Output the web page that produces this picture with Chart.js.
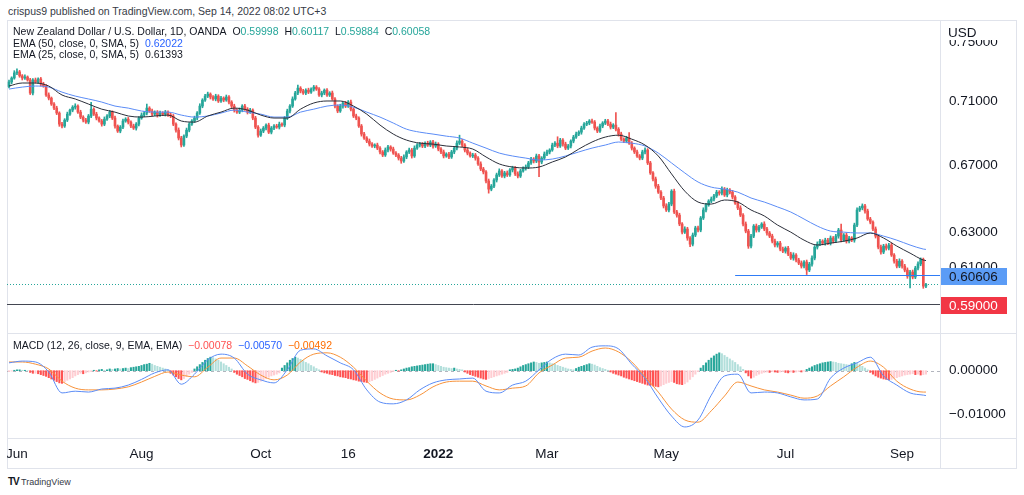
<!DOCTYPE html>
<html>
<head>
<meta charset="utf-8">
<title>NZD/USD 1D</title>
<script src="https://cdn.jsdelivr.net/npm/chart.js@4.4.1/dist/chart.umd.min.js"></script>
<style>
  html,body{margin:0;padding:0;background:#fff}
  body{width:1024px;height:495px;position:relative;overflow:hidden;font-family:'Liberation Sans Narrow','Liberation Sans',Arial,sans-serif;color:#131722}
  .abs{position:absolute;white-space:nowrap}
  .ln{position:absolute;background:#e0e3eb}
  canvas{position:absolute;display:block}
  .lg{left:13px;font-size:10.5px;line-height:12px}
  .up{color:#26a69a}
</style>
</head>
<body>
<div class="abs" style="left:8px;top:5px;font-size:10.5px;color:#363a45">crispus9 published on TradingView.com, Sep 14, 2022 08:02 UTC+3</div>

<div class="ln" style="left:7px;top:20px;width:1010px;height:1px"></div>
<div class="ln" style="left:7px;top:468px;width:1010px;height:1px"></div>
<div class="ln" style="left:7px;top:20px;width:1px;height:449px"></div>
<div class="ln" style="left:1016px;top:20px;width:1px;height:449px"></div>
<div class="ln" style="left:7px;top:333px;width:1010px;height:1px"></div>
<div class="ln" style="left:7px;top:438px;width:1010px;height:1px"></div>
<div class="ln" style="left:940px;top:20px;width:1px;height:449px"></div>

<canvas id="main" width="1009" height="313" style="left:7px;top:20px"></canvas>
<canvas id="macd" width="1009" height="135" style="left:7px;top:333px"></canvas>

<div class="abs lg" style="top:25px">New Zealand Dollar / U.S. Dollar, 1D, OANDA&nbsp;&nbsp;O<span class="up">0.59998</span>&nbsp;&nbsp;H<span class="up">0.60117</span>&nbsp;&nbsp;L<span class="up">0.59884</span>&nbsp;&nbsp;C<span class="up">0.60058</span></div>
<div class="abs lg" style="top:37px">EMA (50, close, 0, SMA, 5)&nbsp;&nbsp;<span style="color:#2962ff">0.62022</span></div>
<div class="abs lg" style="top:48px">EMA (25, close, 0, SMA, 5)&nbsp;&nbsp;0.61393</div>
<div class="abs lg" style="top:339px">MACD (12, 26, close, 9, EMA, EMA)&nbsp;&nbsp;<span style="color:#ff5252">&minus;0.00078</span>&nbsp;&nbsp;<span style="color:#2962ff">&minus;0.00570</span>&nbsp;&nbsp;<span style="color:#ff6d00">&minus;0.00492</span></div>
<div class="abs" style="left:948px;top:25px;font-size:13.5px">USD</div>
<div class="abs" style="left:8px;top:476px;font-size:9px;color:#363a45"><b style="font-size:10px;letter-spacing:-1px;color:#131722">TV</b> TradingView</div>

<script>
// NZD/USD daily candles, OANDA, late May 2021 -> Sep 14 2022
const firstOpen = 0.7200;
const closes = [
  0.7230,0.7256,0.7290,0.7297,0.7270,0.7256,0.7263,0.7243,0.7157,0.7243,
  0.7230,0.7250,0.7216,0.7203,0.7144,0.7124,0.7085,0.7059,0.7027,0.6956,
  0.6944,0.6982,0.7020,0.7046,0.7065,0.7072,0.7033,0.7001,0.6982,0.6969,
  0.7008,0.7052,0.7020,0.6995,0.6976,0.6956,0.6988,0.7008,0.7033,0.6995,
  0.6944,0.6912,0.6937,0.6976,0.6988,0.6969,0.6944,0.6931,0.6956,0.6995,
  0.7014,0.7027,0.7059,0.7040,0.7020,0.7033,0.7014,0.7027,0.7020,0.7033,
  0.7014,0.7008,0.6956,0.6918,0.6868,0.6824,0.6880,0.6918,0.6956,0.6976,
  0.6995,0.7027,0.7072,0.7111,0.7137,0.7150,0.7131,0.7118,0.7137,0.7105,
  0.7124,0.7111,0.7131,0.7098,0.7072,0.7046,0.7033,0.7046,0.7072,0.7052,
  0.7033,0.7046,0.6995,0.6937,0.6886,0.6912,0.6931,0.6950,0.6905,0.6931,
  0.6944,0.6937,0.6956,0.6950,0.6995,0.7040,0.7072,0.7118,0.7157,0.7189,
  0.7170,0.7157,0.7176,0.7163,0.7183,0.7196,0.7183,0.7144,0.7157,0.7176,
  0.7144,0.7157,0.7118,0.7072,0.7040,0.7072,0.7092,0.7072,0.7098,0.7052,
  0.7008,0.6995,0.6944,0.6893,0.6868,0.6849,0.6830,0.6818,0.6824,0.6805,
  0.6781,0.6762,0.6793,0.6812,0.6799,0.6774,0.6762,0.6743,0.6725,0.6750,
  0.6781,0.6793,0.6756,0.6805,0.6824,0.6830,0.6818,0.6836,0.6824,0.6843,
  0.6818,0.6830,0.6799,0.6781,0.6756,0.6768,0.6750,0.6781,0.6805,0.6836,
  0.6849,0.6824,0.6793,0.6774,0.6756,0.6762,0.6743,0.6707,0.6676,0.6658,
  0.6603,0.6554,0.6572,0.6609,0.6640,0.6664,0.6633,0.6652,0.6640,0.6670,
  0.6682,0.6646,0.6633,0.6664,0.6682,0.6688,0.6713,0.6737,0.6725,0.6756,
  0.6719,0.6743,0.6768,0.6781,0.6793,0.6824,0.6836,0.6818,0.6855,0.6830,
  0.6805,0.6818,0.6849,0.6874,0.6893,0.6905,0.6931,0.6956,0.6963,0.6976,
  0.6969,0.6931,0.6912,0.6944,0.6963,0.6976,0.6956,0.6937,0.6950,0.6924,
  0.6893,0.6861,0.6849,0.6868,0.6836,0.6805,0.6781,0.6756,0.6743,0.6781,
  0.6793,0.6713,0.6652,0.6615,0.6572,0.6536,0.6501,0.6454,0.6430,0.6465,
  0.6542,0.6418,0.6400,0.6348,0.6301,0.6319,0.6267,0.6232,0.6284,0.6325,
  0.6313,0.6383,0.6430,0.6460,0.6483,0.6495,0.6513,0.6536,0.6530,0.6554,
  0.6519,0.6548,0.6536,0.6507,0.6471,0.6442,0.6400,0.6348,0.6307,0.6221,
  0.6278,0.6336,0.6313,0.6330,0.6348,0.6319,0.6296,0.6278,0.6249,0.6227,
  0.6238,0.6204,0.6192,0.6209,0.6176,0.6153,0.6170,0.6142,0.6125,0.6108,
  0.6131,0.6086,0.6119,0.6153,0.6215,0.6232,0.6249,0.6238,0.6255,0.6238,
  0.6267,0.6249,0.6278,0.6313,0.6255,0.6284,0.6249,0.6267,0.6255,0.6342,
  0.6430,0.6442,0.6454,0.6424,0.6377,0.6359,0.6319,0.6278,0.6215,0.6187,
  0.6221,0.6209,0.6227,0.6170,0.6136,0.6108,0.6136,0.6108,0.6086,0.6052,
  0.6075,0.6047,0.6097,0.6120,0.6145,0.5997,0.6006
];
// wick lengths in pips, above and below the candle body
const wickUp = [
  12,8,15,20,10,9,14,7,11,9, 13,8,10,12,9,14,7,10,12,8,
  11,9,13,7,10,15,8,12,9,11, 10,45,9,12,8,10,14,9,11,8,
  12,7,10,13,9,11,8,12,10,9, 14,11,26,9,12,8,10,13,9,11,
  8,12,10,9,14,11,8,13,10,9, 12,10,15,9,11,13,8,10,12,9,
  11,8,13,10,9,12,10,14,9,11, 10,12,8,11,9,13,10,8,12,10,
  9,11,13,8,10,12,9,14,11,20, 10,12,9,13,8,11,10,9,12,8,
  11,9,13,10,8,12,9,11,10,13, 9,12,8,10,11,9,13,10,8,12,
  10,9,13,11,8,12,10,9,11,13, 8,12,10,14,9,11,10,8,12,9,
  11,13,9,10,12,8,11,10,9,14, 37,10,9,12,8,11,10,9,13,10,
  8,12,10,9,11,13,9,10,12,8, 11,9,12,10,8,13,10,11,9,12,
  10,9,13,11,8,12,10,40,11,9, 12,10,8,11,13,9,12,10,11,9,
  13,10,8,12,9,11,10,13,9,80, 10,12,9,11,35,10,8,12,9,11,
  13,9,10,8,12,11,9,10,13,10, 9,12,10,11,8,13,10,9,12,10,
  11,9,13,10,8,12,10,11,9,14, 10,12,9,11,8,10,13,9,12,10,
  11,9,12,10,8,13,10,9,11,12, 9,10,12,8,11,10,13,9,10,12,
  8,11,10,12,9,13,10,8,11,10, 12,9,11,10,35,9,12,10,8,11,
  13,10,12,9,11,10,8,12,9,11, 10,12,9,11,8,10,13,9,10,12,
  9,11,10,12,9,8,6
];
const wickDn = [
  10,12,8,11,9,13,10,8,10,12, 9,11,13,8,10,12,9,11,10,14,
  12,9,10,8,11,13,9,10,12,8, 11,10,9,12,8,13,10,9,11,10,
  13,9,11,10,8,12,10,9,13,11, 8,10,12,9,11,10,13,8,10,12,
  9,11,10,13,12,12,9,10,11,8, 10,12,9,11,8,10,13,9,12,10,
  9,11,8,12,10,13,9,10,11,8, 12,9,11,10,13,8,10,12,9,11,
  10,8,12,9,11,10,13,9,8,10, 12,9,11,10,8,13,9,10,12,11,
  9,10,8,12,11,9,13,10,9,12, 10,11,9,13,8,10,12,9,11,10,
  12,10,9,11,13,8,10,12,14,9, 11,10,13,9,8,12,10,11,9,10,
  13,9,11,10,12,8,10,9,11,12, 9,10,12,11,8,10,13,9,10,12,
  11,24,10,9,12,10,8,11,10,9, 12,10,11,9,8,13,10,9,12,10,
  90,11,9,10,12,8,10,11,9,13, 10,9,12,11,8,10,13,9,10,11,
  9,12,10,8,11,10,9,12,10,11, 13,9,10,11,8,12,10,9,11,10,
  12,10,9,11,13,8,10,12,9,11, 10,9,12,10,11,8,13,14,10,9,
  11,10,9,12,8,10,11,9,12,10, 9,11,10,12,8,10,9,11,10,13,
  10,9,12,11,8,10,13,9,10,11, 12,10,9,11,10,8,12,10,9,11,
  10,25,9,12,10,11,8,10,12,9, 11,10,9,12,10,8,11,10,9,12,
  10,9,11,12,8,10,9,11,10,12, 9,11,10,8,12,10,9,11,10,12,
  65,10,9,11,10,12,9
];
// EMA and MACD lines, read every 5th bar (last point = last bar)
const lineStep = 5;
const ema50 = [
  0.7183,0.7196,0.7203,0.7196,0.7163,0.7137,0.7118,0.7098,0.7072,0.7059,
  0.7040,0.7033,0.7033,0.7014,0.7001,0.7008,0.7027,0.7046,0.7033,0.7020,
  0.7001,0.7001,0.7033,0.7052,0.7072,0.7079,0.7065,0.7033,0.7001,0.6963,
  0.6924,0.6905,0.6893,0.6880,0.6868,0.6836,0.6805,0.6774,0.6756,0.6743,
  0.6731,0.6737,0.6756,0.6781,0.6805,0.6824,0.6843,0.6836,0.6818,0.6774,
  0.6713,0.6652,0.6597,0.6566,0.6554,0.6536,0.6501,0.6477,0.6448,0.6418,
  0.6377,0.6336,0.6307,0.6301,0.6296,0.6296,0.6278,0.6255,0.6227,0.6204,
  0.6202
];
const ema25 = [
  0.7203,0.7223,0.7223,0.7203,0.7144,0.7118,0.7085,0.7052,0.7033,0.7008,
  0.7001,0.7008,0.7014,0.6976,0.6969,0.7008,0.7033,0.7059,0.7046,0.7014,
  0.6995,0.6995,0.7052,0.7092,0.7105,0.7105,0.7072,0.7020,0.6950,0.6893,
  0.6855,0.6836,0.6830,0.6818,0.6812,0.6799,0.6750,0.6707,0.6688,0.6682,
  0.6688,0.6719,0.6750,0.6799,0.6843,0.6874,0.6886,0.6861,0.6824,0.6756,
  0.6646,0.6542,0.6477,0.6465,0.6489,0.6477,0.6430,0.6395,0.6342,0.6301,
  0.6255,0.6227,0.6238,0.6249,0.6267,0.6296,0.6267,0.6221,0.6181,0.6142,
  0.6139
];
const macdLine = [
  0.0018,0.0022,0.0020,-0.0003,-0.0051,-0.0047,-0.0049,-0.0042,-0.0040,-0.0033,
  -0.0020,-0.0005,0.0002,-0.0031,-0.0008,0.0025,0.0038,0.0029,-0.0008,-0.0021,
  -0.0028,0.0002,0.0047,0.0050,0.0034,0.0018,0.0002,-0.0044,-0.0072,-0.0076,
  -0.0067,-0.0044,-0.0028,-0.0021,-0.0019,-0.0017,-0.0047,-0.0051,-0.0033,-0.0024,
  0.0002,0.0027,0.0038,0.0036,0.0054,0.0057,0.0050,0.0015,-0.0017,-0.0063,
  -0.0104,-0.0129,-0.0113,-0.0056,-0.0012,-0.0008,-0.0051,-0.0049,-0.0051,-0.0060,
  -0.0067,-0.0065,-0.0017,0.0006,0.0018,0.0031,-0.0012,-0.0033,-0.0051,-0.0056,
  -0.0057
];
const signalLine = [
  0.0020,0.0020,0.0015,0.0004,-0.0024,-0.0040,-0.0044,-0.0044,-0.0042,-0.0037,
  -0.0026,-0.0013,-0.0003,-0.0010,-0.0014,0.0008,0.0029,0.0029,0.0011,-0.0010,
  -0.0021,-0.0010,0.0020,0.0038,0.0041,0.0031,0.0008,-0.0024,-0.0051,-0.0065,
  -0.0067,-0.0056,-0.0037,-0.0026,-0.0024,-0.0024,-0.0035,-0.0044,-0.0040,-0.0035,
  -0.0005,0.0013,0.0029,0.0031,0.0045,0.0052,0.0043,0.0020,-0.0014,-0.0049,
  -0.0088,-0.0113,-0.0118,-0.0092,-0.0058,-0.0026,-0.0035,-0.0044,-0.0049,-0.0056,
  -0.0063,-0.0058,-0.0035,-0.0014,0.0008,0.0022,0.0008,-0.0024,-0.0042,-0.0049,
  -0.0049
];
const histogram = [
  -0.0002,-0.0001,0.0001,0.0002,0.0002,0.0001,0.0001,0.0000,-0.0004,-0.0006,
  -0.0006,-0.0007,-0.0009,-0.0011,-0.0013,-0.0016,-0.0019,-0.0022,-0.0025,-0.0028,
  -0.0029,-0.0026,-0.0022,-0.0019,-0.0016,-0.0012,-0.0009,-0.0006,-0.0007,-0.0005,
  -0.0003,-0.0002,0.0001,-0.0001,0.0002,0.0003,0.0001,0.0002,0.0004,0.0003,
  0.0004,0.0005,0.0004,0.0005,0.0006,0.0005,0.0007,0.0008,0.0009,0.0010,
  0.0012,0.0014,0.0015,0.0017,0.0015,0.0012,0.0010,0.0008,0.0006,0.0004,
  0.0002,-0.0006,-0.0010,-0.0014,-0.0018,-0.0021,-0.0018,-0.0013,-0.0008,-0.0004,
  0.0004,0.0009,0.0014,0.0019,0.0024,0.0028,0.0031,0.0030,0.0027,0.0024,
  0.0020,0.0016,0.0012,0.0008,0.0004,-0.0004,-0.0008,-0.0011,-0.0014,-0.0018,
  -0.0020,-0.0023,-0.0026,-0.0028,-0.0027,-0.0024,-0.0021,-0.0018,-0.0015,-0.0012,
  -0.0010,-0.0008,-0.0005,0.0006,0.0012,0.0018,0.0024,0.0028,0.0031,0.0029,
  0.0026,0.0023,0.0019,0.0016,0.0012,0.0009,0.0005,0.0002,-0.0003,-0.0005,
  -0.0006,-0.0008,-0.0009,-0.0011,-0.0012,-0.0014,-0.0015,-0.0016,-0.0018,-0.0019,
  -0.0021,-0.0022,-0.0024,-0.0025,-0.0026,-0.0027,-0.0025,-0.0023,-0.0020,-0.0017,
  -0.0014,-0.0011,-0.0008,-0.0006,-0.0004,-0.0002,0.0001,-0.0001,0.0002,0.0004,
  0.0006,0.0007,0.0009,0.0010,0.0011,0.0012,0.0013,0.0014,0.0015,0.0016,
  0.0016,0.0014,0.0012,0.0010,0.0008,0.0007,0.0006,0.0005,0.0006,0.0004,
  0.0003,0.0002,-0.0003,-0.0006,-0.0009,-0.0011,-0.0013,-0.0015,-0.0017,-0.0019,
  -0.0020,-0.0018,-0.0016,-0.0014,-0.0012,-0.0010,-0.0008,-0.0006,-0.0004,0.0002,
  0.0003,0.0004,0.0006,0.0009,0.0012,0.0014,0.0016,0.0018,0.0020,0.0019,
  0.0017,0.0018,0.0019,0.0020,0.0018,0.0016,0.0015,0.0012,0.0010,0.0008,
  0.0006,0.0004,0.0003,0.0002,0.0005,0.0008,0.0010,0.0012,0.0014,0.0016,
  0.0015,0.0013,0.0010,0.0007,0.0005,0.0003,0.0001,-0.0003,-0.0006,-0.0008,
  -0.0010,-0.0012,-0.0015,-0.0017,-0.0019,-0.0021,-0.0023,-0.0025,-0.0027,-0.0029,
  -0.0031,-0.0033,-0.0034,-0.0035,-0.0036,-0.0037,-0.0035,-0.0032,-0.0029,-0.0027,
  -0.0025,-0.0027,-0.0030,-0.0031,-0.0032,-0.0030,-0.0026,-0.0020,-0.0014,-0.0008,
  -0.0002,0.0006,0.0012,0.0018,0.0024,0.0029,0.0034,0.0038,0.0041,0.0039,
  0.0035,0.0031,0.0027,0.0023,0.0019,0.0014,0.0009,0.0003,-0.0005,-0.0012,
  -0.0017,-0.0015,-0.0011,-0.0008,-0.0006,-0.0004,-0.0003,-0.0004,-0.0002,-0.0003,
  -0.0004,-0.0003,-0.0002,-0.0004,-0.0005,-0.0003,-0.0004,-0.0003,-0.0002,-0.0003,
  -0.0001,0.0003,0.0006,0.0009,0.0012,0.0014,0.0016,0.0018,0.0019,0.0020,
  0.0021,0.0020,0.0019,0.0017,0.0016,0.0015,0.0014,0.0013,0.0016,0.0019,
  0.0018,0.0015,0.0010,0.0006,0.0002,-0.0004,-0.0008,-0.0012,-0.0015,-0.0017,
  -0.0019,-0.0020,-0.0021,-0.0020,-0.0018,-0.0016,-0.0014,-0.0012,-0.0010,-0.0009,
  -0.0008,-0.0007,-0.0009,-0.0008,-0.0010,-0.0009,-0.0008
];
const priceTicks = [0.61, 0.63, 0.67, 0.71, 0.75];
const macdTicks = [-0.01, 0];
const timeLabels = ['Jun', 'Aug', 'Oct', '16', '2022', 'Mar', 'May', 'Jul', 'Sep'];
const timeIdx = [3, 50, 95, 128, 162, 203, 248, 293, 337];
const supportLevel = 0.60606, supportFrom = 274;
const lowLevel = 0.59;

const UP = '#26a69a', DOWN = '#ef5350';
const FONT = "'Liberation Sans Narrow','Liberation Sans',Arial,sans-serif";
Chart.defaults.font.family = FONT;
Chart.defaults.color = '#131722';

const pip = 0.0001;
const opens = closes.map((c, i) => i ? closes[i - 1] : firstOpen);
const candleCol = closes.map((c, i) => c >= opens[i] ? UP : DOWN);
const bodies = closes.map((c, i) => ({x: i, y: [opens[i], c]}));
const wicks = closes.map((c, i) => ({x: i, y: [Math.min(opens[i], c) - wickDn[i] * pip, Math.max(opens[i], c) + wickUp[i] * pip]}));
const lastBar = closes.length - 1;
const lineX = k => Math.min(k * lineStep, lastBar);
const pts = arr => arr.map((v, k) => ({x: lineX(k), y: v}));
const histCol = histogram.map((h, i) => {
  const p = i ? histogram[i - 1] : h;
  if (h >= 0) return h >= p ? '#26a69a' : '#b2dfdb';
  return h < p ? '#ff5252' : '#ffcdd2';
});

// bar index range that fills the plot width
const xMin = -0.755, xMax = 351.3;

function tag(ctx, x, y, fill, color, text) {
  ctx.fillStyle = fill;
  ctx.fillRect(x, Math.round(y) - 8, 66, 17);
  ctx.fillStyle = color;
  ctx.font = '13.5px ' + FONT;
  ctx.textBaseline = 'middle';
  ctx.fillText(text, x + 8, Math.round(y) + 1);
}

const mainMarks = {
  id: 'mainMarks',
  beforeDatasetsDraw(chart) {
    const {ctx, chartArea: a, scales: {y}} = chart;
    const yl = Math.round(y.getPixelForValue(closes[lastBar])) + 0.5;
    ctx.save();
    ctx.strokeStyle = '#26a69a';
    ctx.lineWidth = 1;
    ctx.setLineDash([1, 2]);
    ctx.beginPath(); ctx.moveTo(a.left, yl); ctx.lineTo(a.right, yl); ctx.stroke();
    ctx.restore();
  },
  afterDraw(chart) {
    const {ctx, chartArea: a, scales: {x, y}} = chart;
    ctx.save();
    ctx.fillStyle = '#fff';
    ctx.fillRect(a.right + 1, 1, chart.width - a.right - 2, 19);
    ctx.setLineDash([]);
    ctx.lineWidth = 1;
    const yr = Math.round(y.getPixelForValue(lowLevel)) + 0.5;
    ctx.strokeStyle = '#434651';
    ctx.beginPath(); ctx.moveTo(a.left, yr); ctx.lineTo(a.right, yr); ctx.stroke();
    const ys = Math.round(y.getPixelForValue(supportLevel)) + 0.5;
    ctx.strokeStyle = '#2f7cf6';
    ctx.beginPath(); ctx.moveTo(x.getPixelForValue(supportFrom), ys); ctx.lineTo(a.right, ys); ctx.stroke();
    tag(ctx, a.right + 1, ys, '#5b9cf6', '#131722', supportLevel.toFixed(5));
    tag(ctx, a.right + 1, yr, '#f23645', '#ffffff', lowLevel.toFixed(5));
    ctx.restore();
  }
};

new Chart(document.getElementById('main'), {
  type: 'bar',
  data: {
    datasets: [
      {type: 'bar', data: wicks, backgroundColor: candleCol, barThickness: 1, grouped: false, order: 4},
      {type: 'bar', data: bodies, backgroundColor: candleCol, barThickness: 2, grouped: false, minBarLength: 1, order: 3},
      {type: 'line', data: pts(ema50), borderColor: '#5b8cf6', borderWidth: 1, pointRadius: 0, cubicInterpolationMode: 'monotone', order: 2},
      {type: 'line', data: pts(ema25), borderColor: '#2a2e39', borderWidth: 1, pointRadius: 0, cubicInterpolationMode: 'monotone', order: 1}
    ]
  },
  options: {
    responsive: false, animation: false, events: [],
    plugins: {legend: {display: false}, tooltip: {enabled: false}},
    scales: {
      x: {type: 'linear', min: xMin, max: xMax, offset: false, display: false},
      y: {
        type: 'logarithmic', position: 'right', min: 0.5745, max: 0.7652, bounds: 'data',
        grid: {display: false, drawTicks: false}, border: {display: false},
        ticks: {padding: 9, font: {size: 13.5}, color: '#131722', callback: v => v.toFixed(5)},
        afterBuildTicks: s => { s.ticks = priceTicks.map(v => ({value: v})); },
        afterFit: s => { s.width = 76; s.paddingTop = 0; s.paddingBottom = 0; }
      }
    }
  },
  plugins: [mainMarks]
});

const macdMarks = {
  id: 'macdMarks',
  beforeDatasetsDraw(chart) {
    const {ctx, chartArea: a, scales: {y}} = chart;
    const y0 = Math.round(y.getPixelForValue(0)) + 0.5;
    ctx.save();
    ctx.strokeStyle = '#b2b5be';
    ctx.lineWidth = 1;
    ctx.setLineDash([3, 3]);
    ctx.beginPath(); ctx.moveTo(a.left, y0); ctx.lineTo(a.right, y0); ctx.stroke();
    ctx.restore();
  }
};

new Chart(document.getElementById('macd'), {
  type: 'bar',
  data: {
    datasets: [
      {type: 'bar', data: histogram.map((h, i) => ({x: i, y: h})), backgroundColor: histCol, barThickness: 1.4, grouped: false, order: 3},
      {type: 'line', data: pts(signalLine), borderColor: '#f7923a', borderWidth: 1, pointRadius: 0, cubicInterpolationMode: 'monotone', order: 2},
      {type: 'line', data: pts(macdLine), borderColor: '#5b8cf6', borderWidth: 1, pointRadius: 0, cubicInterpolationMode: 'monotone', order: 1}
    ]
  },
  options: {
    responsive: false, animation: false, events: [],
    plugins: {legend: {display: false}, tooltip: {enabled: false}},
    scales: {
      x: {
        type: 'linear', min: xMin, max: xMax, offset: false,
        grid: {display: false, drawTicks: false}, border: {display: false},
        ticks: {
          padding: 8, autoSkip: false, maxRotation: 0, color: '#131722',
          font: c => ({size: 13.5, weight: c.tick && c.tick.value === 162 ? 'bold' : 'normal'}),
          callback: v => timeLabels[timeIdx.indexOf(v)]
        },
        afterBuildTicks: s => { s.ticks = timeIdx.map(v => ({value: v})); },
        afterFit: s => { s.height = 30; s.paddingLeft = 0; s.paddingRight = 0; }
      },
      y: {
        type: 'linear', position: 'right', min: -0.015436, max: 0.008647,
        grid: {display: false, drawTicks: false}, border: {display: false},
        ticks: {padding: 9, font: {size: 13.5}, color: '#131722', callback: v => (v < 0 ? '\u2212' : '') + Math.abs(v).toFixed(5)},
        afterBuildTicks: s => { s.ticks = macdTicks.map(v => ({value: v})); },
        afterFit: s => { s.width = 76; s.paddingTop = 0; s.paddingBottom = 0; }
      }
    }
  },
  plugins: [macdMarks]
});
</script>
</body>
</html>
